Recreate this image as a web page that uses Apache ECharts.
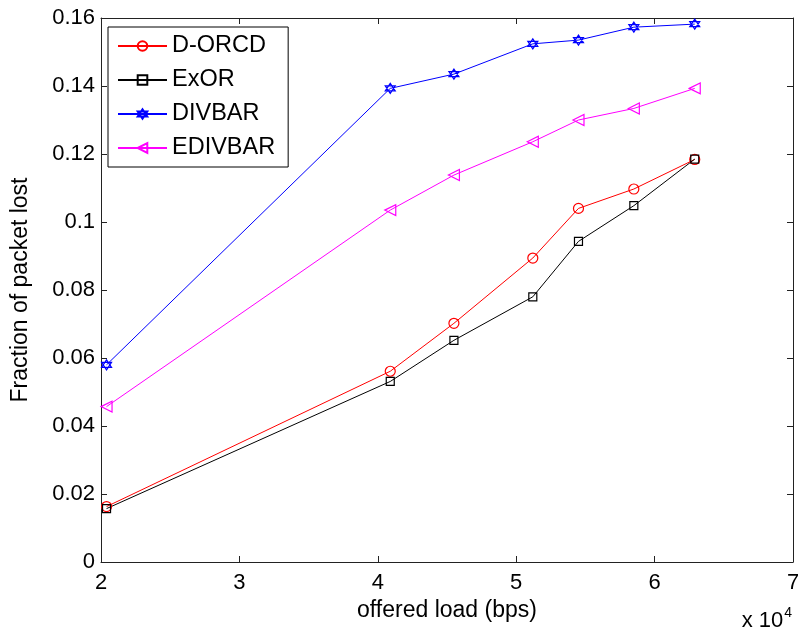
<!DOCTYPE html>
<html>
<head>
<meta charset="utf-8">
<script src="https://cdn.jsdelivr.net/npm/echarts@6/dist/echarts.min.js"></script>
<style>
html,body{margin:0;padding:0;background:#fff;}
#c{width:798px;height:635px;}
</style>
</head>
<body>
<div id="c"></div>
<script>
// offered load (bps)
const loads = [20400, 40900, 45500, 51200, 54500, 58500, 62900];
const seriesNames = ['D-ORCD', 'ExOR', 'DIVBAR', 'EDIVBAR'];
const dorcd   = [0.0163, 0.0561, 0.0702, 0.0894, 0.1040, 0.1097, 0.1184];
const exor    = [0.0157, 0.0531, 0.0652, 0.0780, 0.0943, 0.1048, 0.1185];
const divbar  = [0.0580, 0.1393, 0.1435, 0.1524, 0.1535, 0.1573, 0.1582];
const edivbar = [0.0457, 0.1035, 0.1138, 0.1236, 0.1300, 0.1334, 0.1393];
const xTicks = [2, 3, 4, 5, 6, 7];
const yTicks = [0, 0.02, 0.04, 0.06, 0.08, 0.1, 0.12, 0.14, 0.16];

const FONT = '"Liberation Sans", Arial, Helvetica, sans-serif';
const AX = '#222';
const triLeft = 'path://M0,5 L10,0 L10,10 Z';
const hexagram = 'path://M5,0 L9.33,7.5 L0.67,7.5 Z M5,10 L0.67,2.5 L9.33,2.5 Z';

function mk(name, data, color, symbol, size) {
  return {
    name: name,
    type: 'line',
    xAxisIndex: 0, yAxisIndex: 0,
    data: loads.map((x, i) => [x, data[i]]),
    symbol: symbol,
    symbolSize: size,
    showAllSymbol: true,
    lineStyle: { color: color, width: 1 },
    itemStyle: { color: 'rgba(255,255,255,0)', borderColor: color, borderWidth: 1.2 },
    emphasis: { disabled: true },
    animation: false
  };
}

const chart = echarts.init(document.getElementById('c'), null, { renderer: 'canvas' });
const axisCommon = {
  type: 'value',
  axisLine: { show: true, onZero: false, lineStyle: { color: AX, width: 1 } },
  axisTick: { show: true, inside: true, length: 6, lineStyle: { color: AX } },
  splitLine: { show: false }
};
chart.setOption({
  backgroundColor: '#fff',
  animation: false,
  grid: { left: 101, right: 5, top: 18, bottom: 73, containLabel: false, outerBoundsMode: 'none' },
  legend: {
    orient: 'vertical',
    left: 108, top: 27,
    padding: [7, 13, 7, 9],
    itemGap: 10,
    itemWidth: 49, itemHeight: 12,
    borderColor: '#000', borderWidth: 1,
    backgroundColor: '#fff',
    selectedMode: false,
    textStyle: { fontFamily: FONT, fontSize: 23.5, color: '#000' },
    data: seriesNames
  },
  xAxis: [
    Object.assign({}, axisCommon, {
      position: 'bottom',
      min: xTicks[0] * 1e4, max: xTicks[xTicks.length - 1] * 1e4, interval: 1e4,
      axisLabel: { fontFamily: FONT, fontSize: 22, color: '#000', margin: 10,
        formatter: v => String(Math.round(v / 1e4)) },
      name: 'offered load (bps)', nameLocation: 'middle', nameGap: 36,
      nameTextStyle: { fontFamily: FONT, fontSize: 23, color: '#000' }
    }),
    Object.assign({}, axisCommon, {
      position: 'top',
      min: xTicks[0] * 1e4, max: xTicks[xTicks.length - 1] * 1e4, interval: 1e4,
      axisLabel: { show: false }
    })
  ],
  yAxis: [
    Object.assign({}, axisCommon, {
      position: 'left',
      min: yTicks[0], max: yTicks[yTicks.length - 1], interval: 0.02,
      axisLabel: { fontFamily: FONT, fontSize: 22, color: '#000', margin: 6,
        formatter: v => String(+v.toFixed(2)) },
      name: 'Fraction of packet lost', nameLocation: 'middle', nameGap: 69,
      nameTextStyle: { fontFamily: FONT, fontSize: 23, color: '#000' }
    }),
    Object.assign({}, axisCommon, {
      position: 'right',
      min: yTicks[0], max: yTicks[yTicks.length - 1], interval: 0.02,
      axisLabel: { show: false }
    })
  ],
  graphic: [{
    type: 'text',
    right: 6, top: 606,
    style: {
      text: '{a|x 10}{s|4}',
      rich: {
        a: { fontFamily: FONT, fontSize: 22, fill: '#000', verticalAlign: 'bottom', lineHeight: 26 },
        s: { fontFamily: FONT, fontSize: 14, fill: '#000', verticalAlign: 'top', lineHeight: 26, padding: [0, 0, 12, 1] }
      }
    }
  }],
  series: [
    mk(seriesNames[0], dorcd, '#ff0000', 'circle', 10),
    mk(seriesNames[1], exor, '#000000', 'rect', 8),
    mk(seriesNames[2], divbar, '#0000ff', hexagram, 10),
    mk(seriesNames[3], edivbar, '#ff00ff', triLeft, 11)
  ]
});
</script>
</body>
</html>
